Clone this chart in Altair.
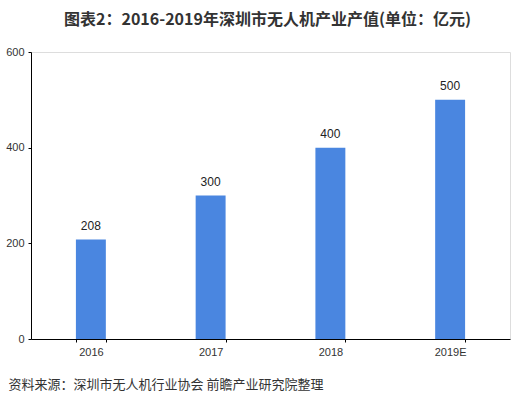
import altair as alt
import pandas as pd

years = ["2016", "2017", "2018", "2019E"]
values = [208, 300, 400, 500]
y_ticks = [0, 200, 400, 600]
title_text = "图表2：2016-2019年深圳市无人机产业产值(单位：亿元)"
source_text = "资料来源：深圳市无人机行业协会 前瞻产业研究院整理"

df = pd.DataFrame({"year": years, "value": values})

base = alt.Chart(df).encode(
    x=alt.X(
        "year:N",
        sort=years,
        scale=alt.Scale(paddingInner=0.75, paddingOuter=0.375),
        axis=alt.Axis(
            title=source_text,
            titleFont="Noto Sans CJK SC",
            titleFontSize=13,
            titleFontWeight="normal",
            titleColor="#333333",
            titleAnchor="start",
            titleAlign="left",
            titleX=-23,
            titleY=39,
            labelAngle=0,
            labelFont="Liberation Sans",
            labelFontSize=11,
            labelColor="#333333",
            labelPadding=4,
            domainColor="#000000",
            tickColor="#000000",
            tickSize=3,
            tickBand="extent",
        ),
    ),
    y=alt.Y(
        "value:Q",
        scale=alt.Scale(domain=[0, 600]),
        axis=alt.Axis(
            title=None,
            values=y_ticks,
            grid=False,
            labelFont="Liberation Sans",
            labelFontSize=11,
            labelColor="#333333",
            domainColor="#000000",
            tickColor="#000000",
            tickSize=3,
            labelPadding=4,
        ),
    ),
)

bars = base.mark_bar(color="#4a86e0")
labels = base.mark_text(
    dy=-14, font="Liberation Sans", fontSize=12, color="#222222"
).encode(text="value:Q")

chart = (
    (bars + labels)
    .properties(
        width=479,
        height=287,
        autosize=alt.AutoSizeParams(type="none"),
        padding={"left": 31, "top": 52, "right": 10, "bottom": 60},
        title=alt.TitleParams(
            text=title_text,
            font="Noto Sans CJK SC",
            fontSize=16,
            fontWeight="bold",
            color="#333333",
            anchor="middle",
            offset=18,
            dx=-3,
        ),
    )
    .configure_view(stroke=None)
    .configure(background="white")
)

chart.save("out.html", embed_options={"renderer": "svg", "actions": False})
